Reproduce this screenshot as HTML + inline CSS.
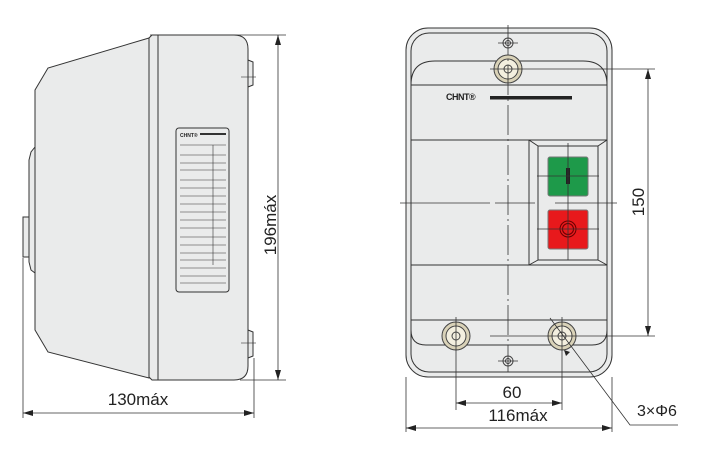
<!DOCTYPE html>
<html><head><meta charset="utf-8"><style>
html,body{margin:0;padding:0;background:#fff;}
svg{display:block;}
text{font-family:"Liberation Sans",sans-serif;fill:#222;}
</style></head><body>
<svg width="718" height="458" viewBox="0 0 718 458" xmlns="http://www.w3.org/2000/svg">
<defs>
<marker id="a" viewBox="0 0 10 6" refX="10" refY="3" markerWidth="10" markerHeight="6" orient="auto-start-reverse" markerUnits="userSpaceOnUse"><path d="M0,0 L10,3 L0,6 z" fill="#222"/></marker>
</defs>
<g stroke="#333" stroke-width="1" fill="#eaebeb">
<!-- LEFT VIEW -->
<rect x="23" y="217" width="7" height="40"/>
<path d="M35,147 L31,152 L29,160 L29,262 L31,270 L35,273 z"/>
<path d="M149,38 L48,68 L35,90 L35,330 L48,352 L149,378 z"/>
<path d="M248,60 L253,62 L253,85 L248,87 z"/>
<path d="M248,330 L253,332 L253,356 L248,358 z"/>
<path d="M158,35 L234,35 Q248,35 248,49 L248,366 Q248,380 234,380 L158,380 z"/>
<path d="M152,35 L158,35 L158,380 L152,380 L149,377 L149,38 z"/>
<rect x="176" y="128" width="53" height="164" rx="3" fill="#eaebeb"/>
</g>
<g stroke="#333" stroke-width="0.6">
<line x1="241" y1="77" x2="256" y2="77"/><line x1="248" y1="70" x2="248" y2="85"/>
<line x1="241" y1="343" x2="256" y2="343"/><line x1="248" y1="336" x2="248" y2="350"/>
<line x1="180" y1="145" x2="226" y2="145"/>
<line x1="213" y1="145" x2="213" y2="265" />
<line x1="180" y1="155" x2="226" y2="155"/><line x1="180" y1="163" x2="226" y2="163"/>
<line x1="180" y1="170" x2="226" y2="170"/><line x1="180" y1="180" x2="226" y2="180"/>
<line x1="180" y1="188" x2="226" y2="188"/><line x1="180" y1="196" x2="226" y2="196"/>
<line x1="180" y1="204" x2="226" y2="204"/><line x1="180" y1="212" x2="226" y2="212"/>
<line x1="180" y1="220" x2="226" y2="220"/><line x1="180" y1="228" x2="226" y2="228"/>
<line x1="180" y1="237" x2="226" y2="237"/><line x1="180" y1="245" x2="226" y2="245"/>
<line x1="180" y1="253" x2="226" y2="253"/><line x1="180" y1="260" x2="226" y2="260"/>
<line x1="180" y1="268" x2="226" y2="268"/><line x1="180" y1="276" x2="226" y2="276"/>
<line x1="180" y1="283" x2="226" y2="283"/>
</g>
<text x="180" y="137" font-size="5" font-weight="bold">CHNT®</text>
<rect x="200" y="133" width="26" height="2" fill="#333"/>
<!-- left dims -->
<g stroke="#333" stroke-width="0.8" fill="none">
<line x1="150" y1="35" x2="286" y2="35"/><line x1="240" y1="380" x2="286" y2="380"/>
<line x1="278" y1="35" x2="278" y2="380" marker-start="url(#a)" marker-end="url(#a)"/>
<line x1="23" y1="258" x2="23" y2="418"/><line x1="254" y1="358" x2="254" y2="418"/>
<line x1="23" y1="413" x2="254" y2="413" marker-start="url(#a)" marker-end="url(#a)"/>
</g>
<text x="270" y="225" font-size="17" text-anchor="middle" transform="rotate(-90 270 225)" dy="6">196máx</text>
<text x="138" y="405" font-size="17" text-anchor="middle">130máx</text>

<!-- RIGHT VIEW -->
<g stroke="#333" stroke-width="1" fill="#eaebeb">
<rect x="406" y="28" width="206" height="349" rx="22"/>
<rect x="411" y="33" width="196" height="339" rx="18"/>
<path d="M411,85 Q411,61 435,61 L583,61 Q607,61 607,85" fill="none"/>
<line x1="411" y1="85" x2="607" y2="85"/>
<line x1="411" y1="140" x2="607" y2="140"/>
<line x1="411" y1="265" x2="607" y2="265"/>
<rect x="529" y="140" width="78" height="125"/>
<rect x="538" y="146" width="60" height="114"/>
<line x1="529" y1="140" x2="538" y2="146"/><line x1="607" y1="140" x2="598" y2="146"/>
<line x1="529" y1="265" x2="538" y2="260"/><line x1="607" y1="265" x2="598" y2="260"/>
<line x1="411" y1="320" x2="607" y2="320"/>
<path d="M411,330 Q411,345 426,345 L592,345 Q607,345 607,330" fill="none"/>
<rect x="548" y="157" width="40" height="39" rx="2" fill="#1e9a4a" stroke="#777"/>
<rect x="548" y="210" width="40" height="39" rx="2" fill="#e8191c" stroke="#777"/>
</g>
<rect x="566" y="168" width="4" height="16" fill="#222"/>
<circle cx="568" cy="229" r="8" fill="none" stroke="#600" stroke-width="1"/>
<circle cx="568" cy="229" r="5.5" fill="none" stroke="#600" stroke-width="1"/>
<!-- bolts -->
<g stroke="#444" stroke-width="1">
<circle cx="508" cy="69" r="14" fill="#d9d2b8"/><circle cx="508" cy="69" r="10" fill="#f3efdf"/><circle cx="508" cy="69" r="4" fill="none"/>
<circle cx="456" cy="336" r="14" fill="#d9d2b8"/><circle cx="456" cy="336" r="10" fill="#f3efdf"/><circle cx="456" cy="336" r="4" fill="none"/>
<circle cx="562" cy="336" r="14" fill="#d9d2b8"/><circle cx="562" cy="336" r="10" fill="#f3efdf"/><circle cx="562" cy="336" r="4" fill="none"/>
<circle cx="508" cy="43" r="5" fill="#eee"/><circle cx="508" cy="43" r="2.5" fill="none"/>
<circle cx="508" cy="361" r="5" fill="#eee"/><circle cx="508" cy="361" r="2.5" fill="none"/>
</g>
<text x="446" y="100" font-size="9" font-weight="bold" letter-spacing="-0.5">CHNT®</text>
<rect x="490" y="96" width="82" height="3.5" fill="#222"/>
<!-- center lines -->
<g stroke="#333" stroke-width="0.8" fill="none">
<line x1="508" y1="25" x2="508" y2="372" stroke-dasharray="30,4,2,4"/>
<line x1="498" y1="43" x2="518" y2="43"/><line x1="498" y1="361" x2="518" y2="361"/>
<line x1="400" y1="203" x2="490" y2="203"/>
<line x1="495" y1="203" x2="535" y2="203"/>
<line x1="555" y1="203" x2="617" y2="203"/>
<line x1="568" y1="143" x2="568" y2="260"/>
<line x1="537" y1="176" x2="599" y2="176"/><line x1="537" y1="229" x2="599" y2="229"/>
<line x1="490" y1="69" x2="655" y2="69"/>
<line x1="490" y1="336" x2="655" y2="336"/>
<line x1="648" y1="69" x2="648" y2="336" marker-start="url(#a)" marker-end="url(#a)"/>
<line x1="456" y1="317" x2="456" y2="410"/><line x1="562" y1="317" x2="562" y2="410"/>
<line x1="456" y1="403" x2="562" y2="403" marker-start="url(#a)" marker-end="url(#a)"/>
<line x1="406" y1="377" x2="406" y2="432"/><line x1="612" y1="377" x2="612" y2="432"/>
<line x1="406" y1="428" x2="612" y2="428" marker-start="url(#a)" marker-end="url(#a)"/>
<polyline points="550,318 630,425 678,425"/>
</g>
<path d="M564,350 L570,352 L566,356 z" fill="#222"/>
<text x="638" y="202" font-size="17" text-anchor="middle" transform="rotate(-90 638 202)" dy="6">150</text>
<text x="512" y="398" font-size="17" text-anchor="middle">60</text>
<text x="518" y="421" font-size="17" text-anchor="middle">116máx</text>
<text x="637" y="416" font-size="16">3×Φ6</text>
</svg>
</body></html>
